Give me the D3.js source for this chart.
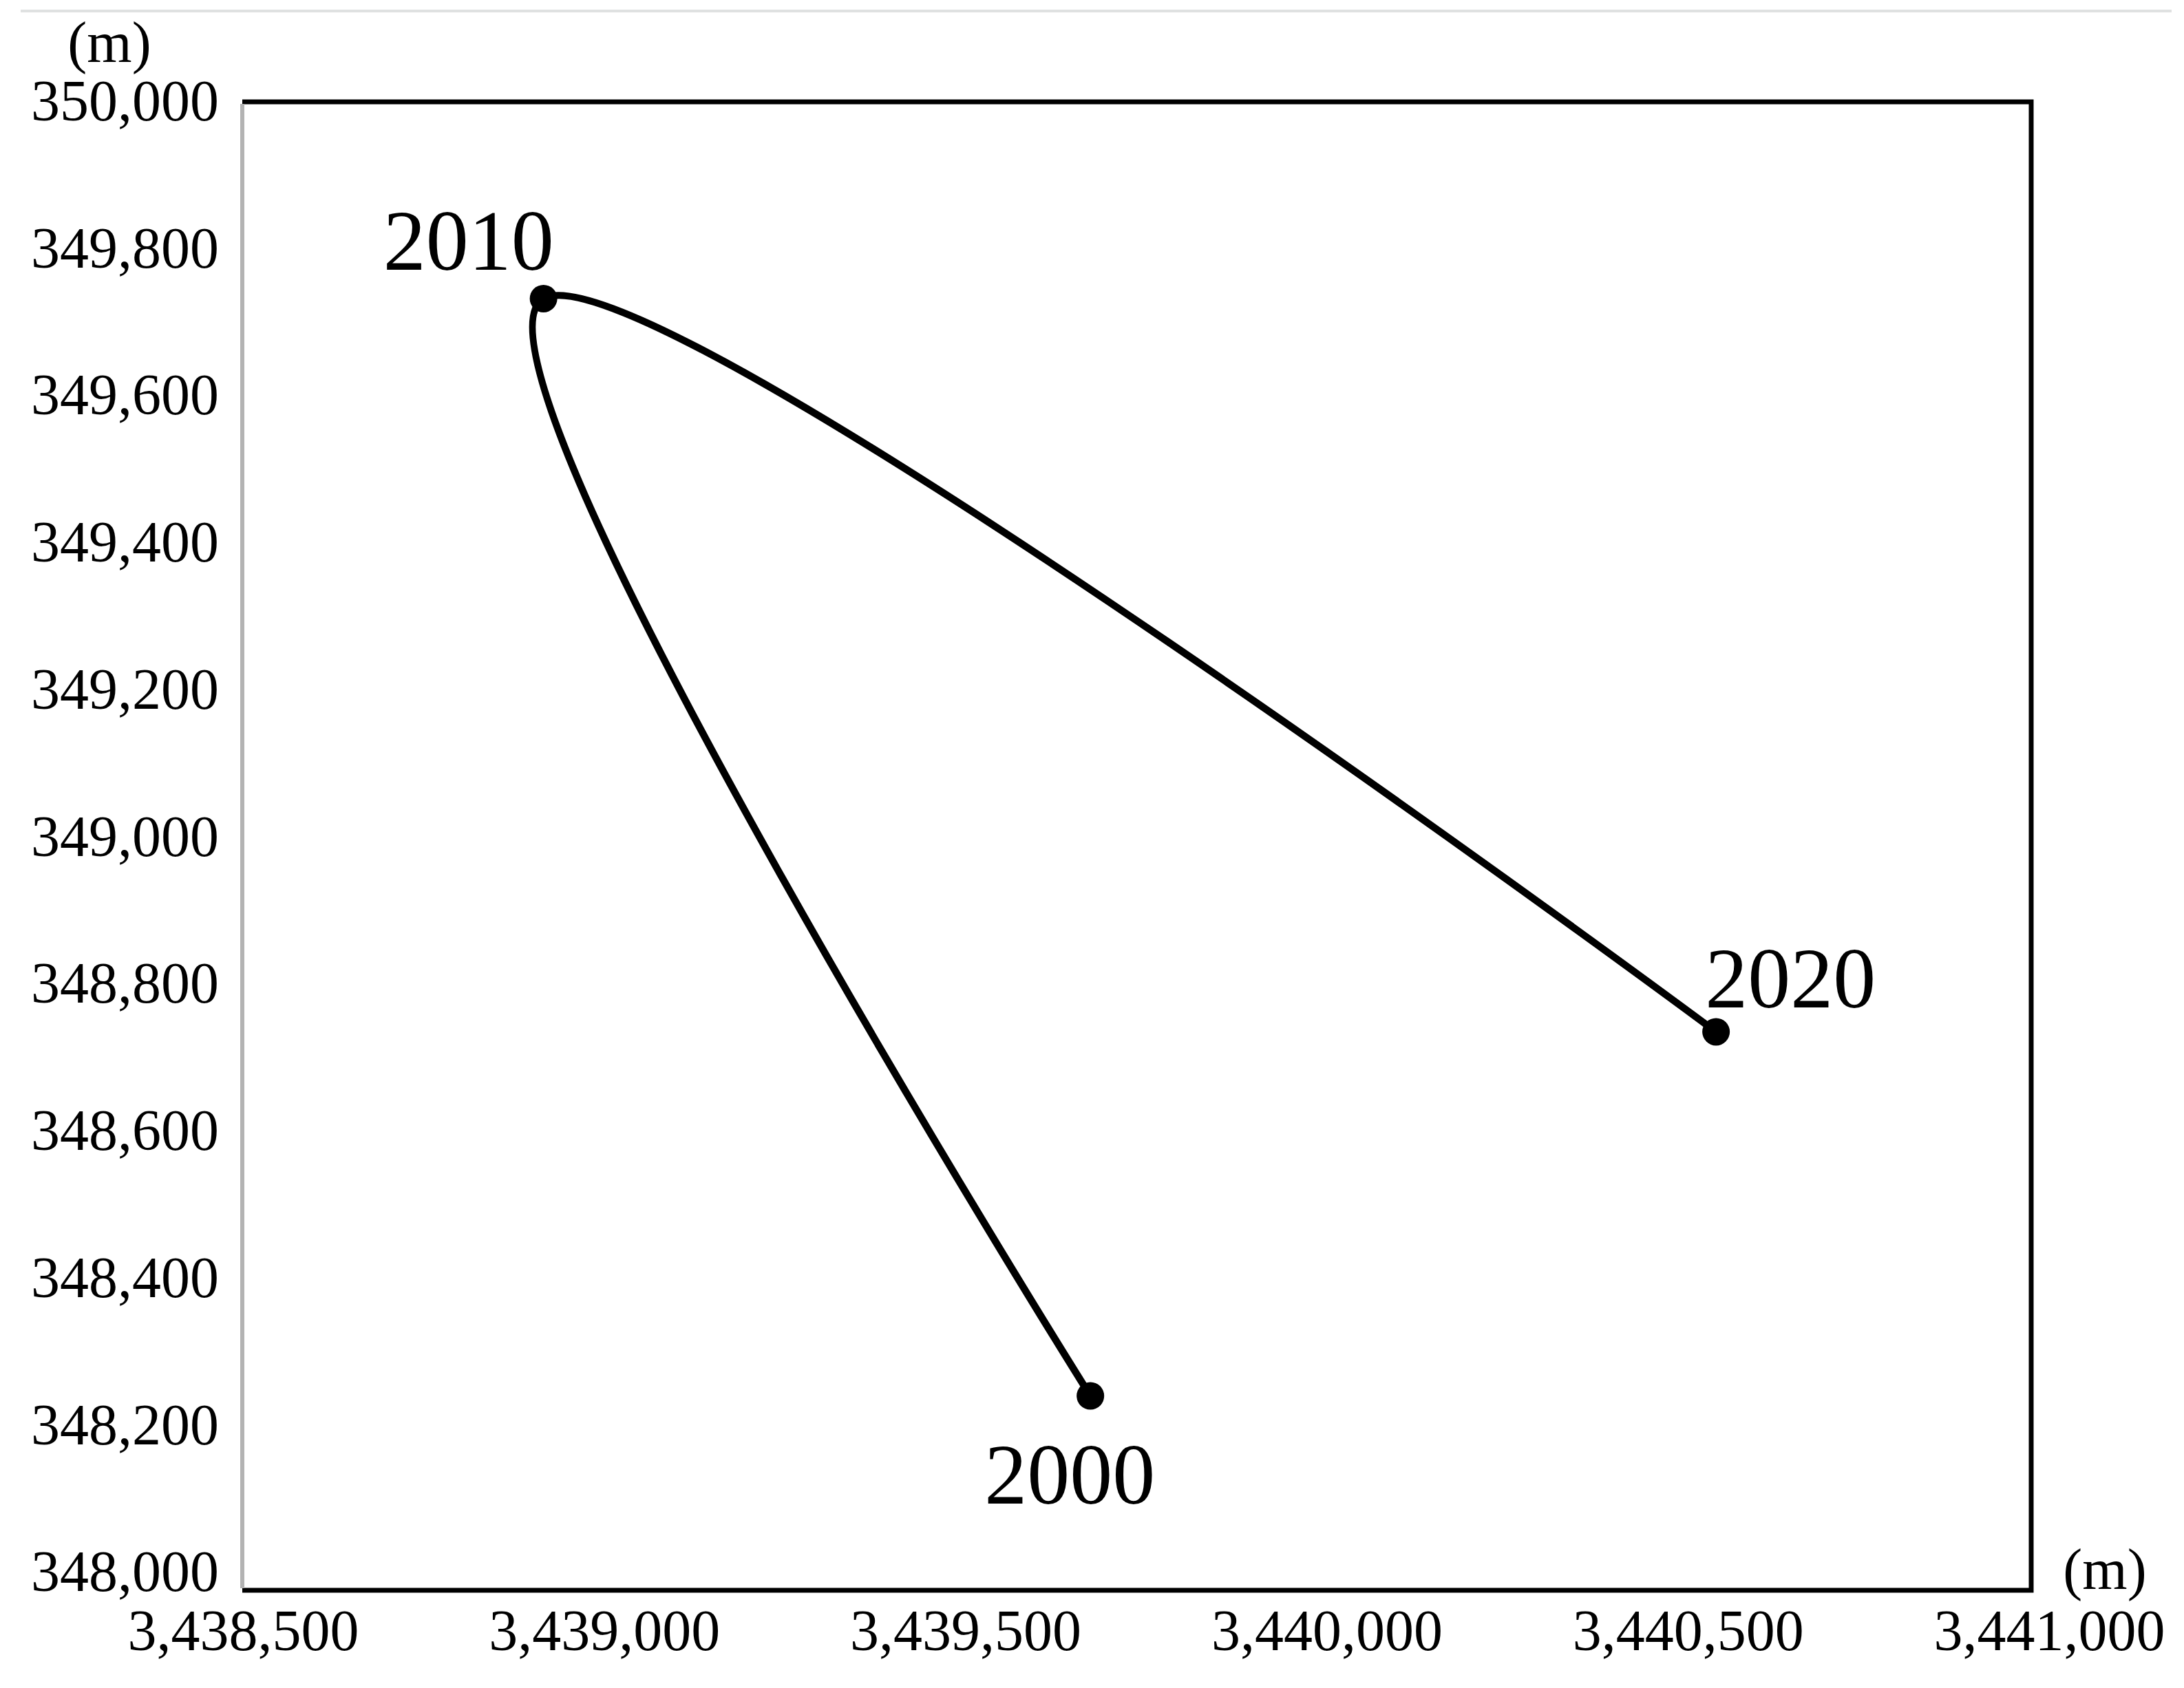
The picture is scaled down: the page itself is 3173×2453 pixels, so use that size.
<!DOCTYPE html>
<html>
<head>
<meta charset="utf-8">
<script src="https://cdn.jsdelivr.net/npm/d3@7"></script>
<style>
  html, body { margin: 0; padding: 0; background: #ffffff; }
  svg { display: block; }
  text { font-family: "Liberation Serif", "Times New Roman", serif; fill: #000; }
</style>
</head>
<body>
<script>
// ---- data ----
const years = ["2000", "2010", "2020"];
const eastings = [3439673, 3438916, 3440539];
const northings = [348240, 349732, 348735];
const xTicks = [3438500, 3439000, 3439500, 3440000, 3440500, 3441000];
const yTicks = [348000, 348200, 348400, 348600, 348800, 349000, 349200, 349400, 349600, 349800, 350000];
const unitLabel = "(m)";

// ---- layout ----
const W = 3173, H = 2453;
const frame = { left: 352, right: 2951, top: 148, bottom: 2311 };
const labelOffsets = [[-30, 156], [-109, -42], [108, -35]];

const svg = d3.select("body").append("svg").attr("width", W).attr("height", H);

const x = d3.scaleLinear().domain([3438500, 3441000]).range([353, 2977]);
const y = d3.scaleLinear().domain([348000, 350000]).range([2285, 147.5]);

// top decorative rule
svg.append("line").attr("x1", 30).attr("x2", 3155).attr("y1", 16).attr("y2", 16)
  .attr("stroke", "#dfe1e1").attr("stroke-width", 4);

// frame
svg.append("path")
  .attr("d", `M${frame.left},${frame.top}H${frame.right}V${frame.bottom}H${frame.left}`)
  .attr("fill", "none").attr("stroke", "#000").attr("stroke-width", 7)
  .attr("stroke-linejoin", "miter");
svg.append("line").attr("x1", frame.left).attr("x2", frame.left)
  .attr("y1", frame.top + 3).attr("y2", frame.bottom - 3)
  .attr("stroke", "#b3b3b3").attr("stroke-width", 6);

// axes
const fmt = d3.format(",");
const yAxis = svg.append("g").attr("transform", `translate(${frame.left},0)`)
  .call(d3.axisLeft(y).tickValues(yTicks).tickSize(0).tickPadding(34).tickFormat(fmt));
yAxis.select(".domain").remove();
yAxis.selectAll("text").attr("font-size", 84).attr("font-family", "Liberation Serif").attr("fill", "#000");

const xAxis = svg.append("g").attr("transform", `translate(0,${frame.bottom})`)
  .call(d3.axisBottom(x).tickValues(xTicks).tickSize(0).tickPadding(27).tickFormat(fmt));
xAxis.select(".domain").remove();
xAxis.selectAll("text").attr("font-size", 84).attr("font-family", "Liberation Serif").attr("fill", "#000");

// unit labels
svg.append("text").attr("x", 159).attr("y", 90).attr("text-anchor", "middle")
  .attr("font-size", 84).text(unitLabel);
svg.append("text").attr("x", 3058).attr("y", 2309).attr("text-anchor", "middle")
  .attr("font-size", 84).text(unitLabel);

// data
const pts = years.map((yr, i) => ({ year: yr, e: eastings[i], n: northings[i], off: labelOffsets[i] }));

const line = d3.line().x(d => x(d.e)).y(d => y(d.n)).curve(d3.curveCardinal.tension(0));
svg.append("path").datum(pts).attr("d", line)
  .attr("fill", "none").attr("stroke", "#000").attr("stroke-width", 10.5)
  .attr("stroke-linecap", "round").attr("stroke-linejoin", "round");

svg.selectAll("circle.pt").data(pts).enter().append("circle")
  .attr("class", "pt").attr("cx", d => x(d.e)).attr("cy", d => y(d.n)).attr("r", 20)
  .attr("fill", "#000");

svg.selectAll("text.yr").data(pts).enter().append("text")
  .attr("class", "yr")
  .attr("x", d => x(d.e) + d.off[0]).attr("y", d => y(d.n) + d.off[1])
  .attr("text-anchor", "middle").attr("font-size", 124).text(d => d.year);
</script>
</body>
</html>
